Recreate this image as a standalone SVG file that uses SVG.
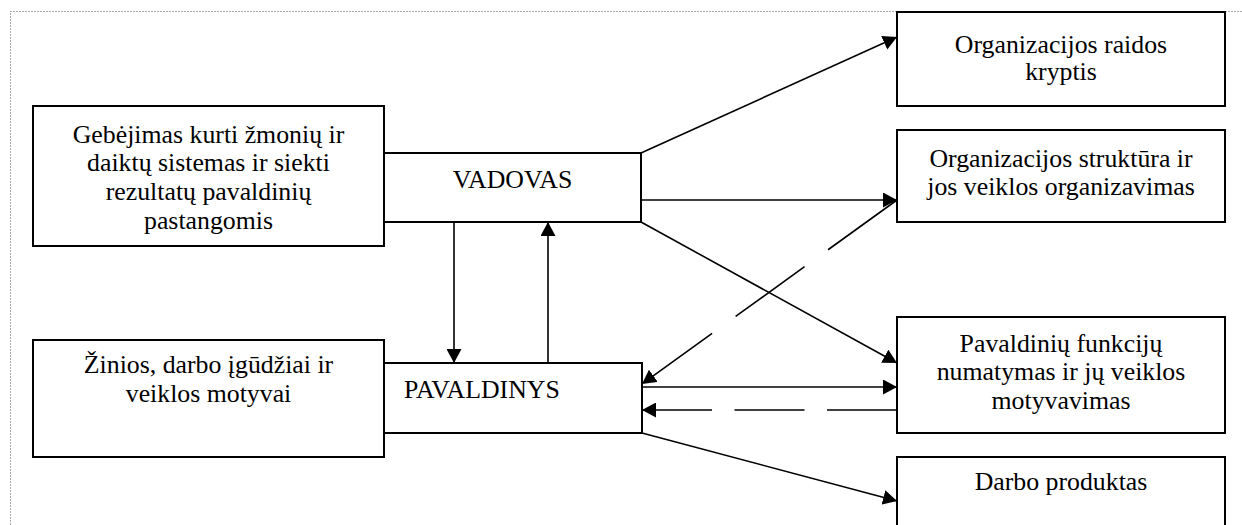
<svg xmlns="http://www.w3.org/2000/svg" width="1242" height="525" viewBox="0 0 1242 525">
<style>
.box{fill:#fff;stroke:#000;stroke-width:2}
text{font-family:'Liberation Serif','Times New Roman',serif;font-size:25.8px;fill:#000}
.c{text-anchor:middle}
.ln{stroke:#000;stroke-width:1.6;fill:none}
.d1{stroke-dasharray:85 29}
.d2{stroke-dasharray:70 22.5}
</style>
<defs>
<marker id="ah" markerUnits="userSpaceOnUse" viewBox="0 0 14 15" markerWidth="14" markerHeight="15" refX="14" refY="7.5" orient="auto">
<path d="M0,0 L14,7.5 L0,15 z" fill="#000"/>
</marker>
</defs>
<rect x="0" y="0" width="1242" height="525" fill="#fff"/>
<rect x="10.5" y="11.5" width="1400" height="700" fill="none" stroke="#555" stroke-width="1" stroke-dasharray="1 2"/>

<g id="n-gebejimas">
<rect class="box" x="33" y="106" width="351" height="140"/>
<text class="c" x="208.5" y="142.5">Gebėjimas kurti žmonių ir</text>
<text class="c" x="208.5" y="171.2">daiktų sistemas ir siekti</text>
<text class="c" x="208.5" y="199.9">rezultatų pavaldinių</text>
<text class="c" x="208.5" y="228.6">pastangomis</text>
</g>
<g id="n-zinios">
<rect class="box" x="33" y="340" width="351" height="117"/>
<text class="c" x="208.5" y="373">Žinios, darbo įgūdžiai ir</text>
<text class="c" x="208.5" y="402">veiklos motyvai</text>
</g>
<g id="n-vadovas">
<rect class="box" x="384" y="153" width="257" height="69"/>
<text class="c" x="512.5" y="187.5">VADOVAS</text>
</g>
<g id="n-pavaldinys">
<rect class="box" x="384" y="363" width="258" height="70"/>
<text x="404" y="398">PAVALDINYS</text>
</g>
<g id="n-raidos">
<rect class="box" x="897" y="12" width="328" height="94"/>
<text class="c" x="1061" y="52.5">Organizacijos raidos</text>
<text class="c" x="1061" y="79.5">kryptis</text>
</g>
<g id="n-struktura">
<rect class="box" x="897" y="130" width="328" height="92"/>
<text class="c" x="1061" y="166.5">Organizacijos struktūra ir</text>
<text class="c" x="1061" y="195">jos veiklos organizavimas</text>
</g>
<g id="n-funkciju">
<rect class="box" x="897" y="317" width="328" height="116"/>
<text class="c" x="1061" y="352">Pavaldinių funkcijų</text>
<text class="c" x="1061" y="380">numatymas ir jų veiklos</text>
<text class="c" x="1061" y="408.5">motyvavimas</text>
</g>
<g id="n-darbo">
<rect class="box" x="897" y="457" width="328" height="100"/>
<text class="c" x="1061" y="490">Darbo produktas</text>
</g>

<g id="connectors">
<line class="ln" x1="641" y1="153" x2="897" y2="37" marker-end="url(#ah)"/>
<line class="ln" x1="641" y1="200" x2="897" y2="200" marker-end="url(#ah)"/>
<line class="ln" x1="641" y1="222" x2="897" y2="363" marker-end="url(#ah)"/>
<line class="ln d1" x1="897" y1="200" x2="642" y2="384" marker-end="url(#ah)"/>
<line class="ln" x1="454" y1="222" x2="454" y2="363" marker-end="url(#ah)"/>
<line class="ln" x1="548" y1="363" x2="548" y2="222" marker-end="url(#ah)"/>
<line class="ln" x1="642" y1="387" x2="897" y2="387" marker-end="url(#ah)"/>
<line class="ln d2" x1="897" y1="410" x2="642" y2="410" marker-end="url(#ah)"/>
<line class="ln" x1="642" y1="433" x2="897" y2="501" marker-end="url(#ah)"/>
</g>
</svg>
